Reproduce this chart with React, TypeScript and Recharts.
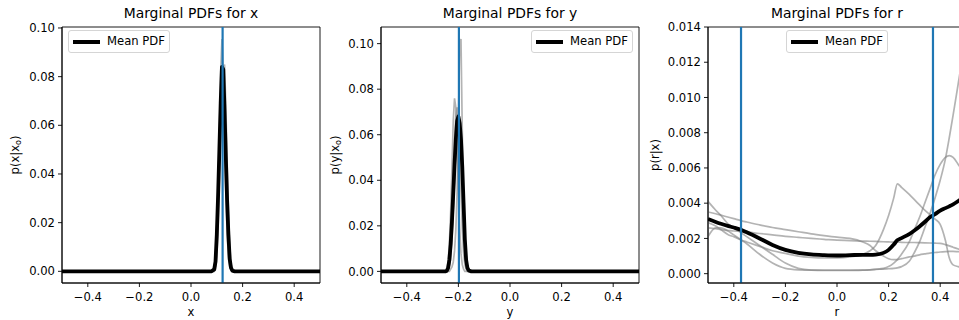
import {
  LineChart,
  Line,
  XAxis,
  YAxis,
  ReferenceLine,
  ReferenceArea,
  Legend,
} from "recharts";

// ---- panel x ----
const xGridX = [-0.5, -0.3, 0.0, 0.06, 0.08, 0.09, 0.095, 0.1, 0.105, 0.11, 0.115, 0.12, 0.125, 0.13, 0.135, 0.14, 0.145, 0.15, 0.155, 0.16, 0.17, 0.2, 0.3, 0.5];
const meanX = [0, 0, 0, 0, 0, 0.0008, 0.004, 0.015, 0.031, 0.05, 0.069, 0.084, 0.083, 0.066, 0.047, 0.029, 0.015, 0.005, 0.0015, 0.0003, 0, 0, 0, 0];
const greyX1 = [0, 0, 0, 0, 0, 0.0005, 0.002, 0.012, 0.03, 0.055, 0.082, 0.0955, 0.08, 0.055, 0.033, 0.016, 0.006, 0.002, 0.0005, 0, 0, 0, 0, 0];
const greyX2 = [0, 0, 0, 0, 0, 0, 0.001, 0.006, 0.018, 0.038, 0.06, 0.076, 0.083, 0.085, 0.068, 0.045, 0.025, 0.011, 0.003, 0.0008, 0, 0, 0, 0];
const greyX3 = [0, 0, 0, 0, 0, 0.001, 0.005, 0.017, 0.034, 0.054, 0.07, 0.082, 0.079, 0.062, 0.043, 0.026, 0.013, 0.005, 0.0012, 0.0002, 0, 0, 0, 0];
const greyX4 = [0, 0, 0, 0, 0, 0.0012, 0.006, 0.019, 0.036, 0.052, 0.066, 0.077, 0.078, 0.063, 0.046, 0.03, 0.017, 0.006, 0.0015, 0.0003, 0, 0, 0, 0];
const greyX5 = [0, 0, 0, 0, 0, 0.0008, 0.005, 0.018, 0.035, 0.053, 0.07, 0.08, 0.079, 0.064, 0.047, 0.03, 0.016, 0.005, 0.0015, 0.0003, 0, 0, 0, 0];
const truthX = 0.1225;

// ---- panel y ----
const xGridY = [-0.5, -0.3, -0.26, -0.25, -0.245, -0.24, -0.235, -0.23, -0.225, -0.22, -0.215, -0.21, -0.205, -0.2, -0.195, -0.19, -0.185, -0.18, -0.175, -0.17, -0.165, -0.16, -0.15, -0.1, 0.0, 0.5];
const meanY = [0, 0, 0, 0, 0.0003, 0.0015, 0.005, 0.012, 0.022, 0.034, 0.047, 0.058, 0.066, 0.068, 0.065, 0.058, 0.046, 0.03, 0.014, 0.005, 0.0015, 0.0004, 0, 0, 0, 0];
const greyY1 = [0, 0, 0, 0, 0, 0, 0, 0.001, 0.002, 0.004, 0.009, 0.018, 0.035, 0.065, 0.1, 0.102, 0.062, 0.028, 0.01, 0.003, 0.0008, 0, 0, 0, 0, 0];
const greyY2 = [0, 0, 0, 0, 0.001, 0.004, 0.012, 0.026, 0.045, 0.066, 0.076, 0.072, 0.056, 0.036, 0.019, 0.008, 0.003, 0.001, 0, 0, 0, 0, 0, 0, 0, 0];
const greyY3 = [0, 0, 0, 0, 0.0005, 0.002, 0.006, 0.014, 0.027, 0.043, 0.058, 0.068, 0.072, 0.066, 0.052, 0.035, 0.019, 0.008, 0.003, 0.001, 0, 0, 0, 0, 0, 0];
const greyY4 = [0, 0, 0, 0, 0, 0.0008, 0.003, 0.008, 0.016, 0.028, 0.041, 0.053, 0.061, 0.064, 0.062, 0.054, 0.043, 0.03, 0.017, 0.007, 0.002, 0.0005, 0, 0, 0, 0];
const greyY5 = [0, 0, 0, 0, 0, 0.0005, 0.002, 0.006, 0.014, 0.026, 0.04, 0.054, 0.063, 0.066, 0.064, 0.056, 0.044, 0.03, 0.016, 0.006, 0.002, 0.0005, 0, 0, 0, 0];
const truthY = -0.198;

// ---- panel r ----
const xGridR = [-0.5, -0.47, -0.45, -0.42, -0.4, -0.37, -0.35, -0.3, -0.25, -0.2, -0.15, -0.1, -0.05, 0.0, 0.05, 0.1, 0.128, 0.15, 0.18, 0.2, 0.22, 0.234, 0.25, 0.28, 0.3, 0.32, 0.34, 0.36, 0.38, 0.4, 0.42, 0.435, 0.45, 0.47, 0.5];
const meanR = [0.0031, 0.00293, 0.00283, 0.0027, 0.00262, 0.00248, 0.00235, 0.002, 0.00163, 0.00135, 0.00118, 0.00109, 0.00105, 0.00103, 0.00105, 0.00107, 0.00107, 0.00108, 0.00118, 0.00135, 0.00165, 0.0019, 0.00202, 0.00225, 0.00245, 0.00268, 0.00293, 0.0032, 0.00338, 0.00358, 0.00372, 0.00382, 0.00393, 0.00412, 0.0044];
const greyR1 = [0.0035, 0.0034, 0.00332, 0.0032, 0.00312, 0.003, 0.00293, 0.00277, 0.00262, 0.0025, 0.00238, 0.00226, 0.00216, 0.00207, 0.002, 0.0018, 0.0016, 0.0013, 0.001, 0.00085, 0.0008, 0.0008, 0.00085, 0.00095, 0.001, 0.00107, 0.00112, 0.00117, 0.0012, 0.00123, 0.00125, 0.00126, 0.00126, 0.00125, 0.00124];
const greyR2 = [0.0026, 0.00255, 0.0025, 0.00245, 0.00242, 0.0024, 0.00237, 0.00228, 0.0022, 0.00212, 0.00206, 0.002, 0.00195, 0.0019, 0.00188, 0.00185, 0.00184, 0.00183, 0.00181, 0.0018, 0.00179, 0.00179, 0.00178, 0.00177, 0.00177, 0.00176, 0.00175, 0.00174, 0.00173, 0.00172, 0.00165, 0.00158, 0.0015, 0.0014, 0.0013];
const greyR3 = [0.0041, 0.0036, 0.0033, 0.0028, 0.0026, 0.0023, 0.0021, 0.0016, 0.0011, 0.0006, 0.0003, 0.0002, 0.00018, 0.00018, 0.00018, 0.0002, 0.00022, 0.00025, 0.0003, 0.0004, 0.0006, 0.0008, 0.0011, 0.0018, 0.0025, 0.0032, 0.004, 0.0048, 0.0056, 0.0062, 0.0066, 0.0067, 0.0066, 0.0062, 0.0055];
const greyR4 = [0.0021, 0.0026, 0.0026, 0.0024, 0.0022, 0.0019, 0.0017, 0.0011, 0.0006, 0.0003, 0.00022, 0.0002, 0.0002, 0.0002, 0.0002, 0.0002, 0.00022, 0.00024, 0.00026, 0.00028, 0.0003, 0.00033, 0.0004, 0.0007, 0.0012, 0.0018, 0.0026, 0.0034, 0.0043, 0.0053, 0.0065, 0.0077, 0.009, 0.0108, 0.0135];
const greyR5 = [0.0029, 0.0027, 0.0025, 0.0022, 0.0021, 0.0019, 0.0018, 0.00155, 0.0013, 0.00115, 0.001, 0.00093, 0.0009, 0.0009, 0.00095, 0.0011, 0.0013, 0.0016, 0.0025, 0.0033, 0.0043, 0.0051, 0.0049, 0.0045, 0.0042, 0.0039, 0.0036, 0.00335, 0.0031, 0.0028, 0.0019, 0.0009, 0.0005, 0.0004, 0.0003];
const truthR = [-0.372, 0.372];

const xTicks = [-0.4, -0.2, 0.0, 0.2, 0.4];
const yTicksXY = [0, 0.02, 0.04, 0.06, 0.08, 0.1];
const yTicksR = [0, 0.002, 0.004, 0.006, 0.008, 0.01, 0.012, 0.014];

const FONT = "DejaVu Sans, sans-serif";
const FS = 11.6;
const BLUE = "#1f77b4";
const GREY = "#808080";

function toRows(xs: number[], mean: number[], greys: number[][]) {
  return xs.map((x, i) => {
    const row: Record<string, number> = { x, mean: mean[i] };
    greys.forEach((g, k) => (row[`g${k}`] = g[i]));
    return row;
  });
}

const fmtX = (v: number) => (v < 0 ? "\u2212" : "") + Math.abs(v).toFixed(1);

function LegendBox() {
  return (
    <div
      style={{
        position: "relative",
        width: 100,
        height: 21,
        border: "1px solid #d5d5d5",
        borderRadius: 3,
        background: "rgba(255,255,255,0.8)",
        fontFamily: FONT,
        fontSize: FS,
        color: "#000",
      }}
    >
      <div style={{ position: "absolute", left: 4, top: 9, width: 27, height: 4, background: "#000" }} />
      <div style={{ position: "absolute", left: 38, top: 0, lineHeight: "21px", whiteSpace: "nowrap" }}>Mean PDF</div>
    </div>
  );
}

interface PanelProps {
  left: number;
  axisWidth: number;
  title: string;
  varName: string;
  sub: boolean;
  rows: Record<string, number>[];
  yDomain: [number, number];
  yTicks: number[];
  yDigits: number;
  truths: number[];
  curve: "linear" | "monotone";
  legendLeft: number;
}

function Panel(p: PanelProps) {
  const plotW = 258;
  const width = p.axisWidth + plotW + 2;
  const yLabel = (props: any) => {
    const vb = props.viewBox;
    const cx = vb.x + 15;
    const cy = vb.y + vb.height / 2;
    return (
      <text
        x={cx}
        y={cy}
        transform={`rotate(-90 ${cx} ${cy})`}
        textAnchor="middle"
        dominantBaseline="central"
        fontSize={FS}
        fontFamily={FONT}
        fill="#000"
      >
        {p.sub ? (
          <>
            {`p(${p.varName}|x`}
            <tspan dy={3} fontSize={8}>o</tspan>
            <tspan dy={-3}>)</tspan>
          </>
        ) : (
          `p(${p.varName}|x)`
        )}
      </text>
    );
  };
  return (
    <div style={{ position: "absolute", left: p.left, top: 0 }}>
      <LineChart
        width={width}
        height={320}
        data={p.rows}
        margin={{ top: 27, right: 2, bottom: 0, left: 0 }}
      >
        <XAxis
          dataKey="x"
          type="number"
          domain={[-0.5, 0.5]}
          allowDataOverflow
          ticks={xTicks}
          interval={0}
          tickFormatter={fmtX}
          height={37}
          tickSize={4}
          tickMargin={6}
          axisLine={{ stroke: "#000", strokeWidth: 0.9 }}
          tickLine={{ stroke: "#000", strokeWidth: 0.9 }}
          tick={{ fill: "#000", fontSize: FS, fontFamily: FONT }}
          label={{ value: p.varName, position: "insideBottom", offset: 4, fill: "#000", fontSize: FS, fontFamily: FONT }}
        />
        <YAxis
          type="number"
          domain={p.yDomain}
          allowDataOverflow
          ticks={p.yTicks}
          interval={0}
          width={p.axisWidth}
          tickFormatter={(v: number) => v.toFixed(p.yDigits)}
          tickSize={4}
          tickMargin={3}
          axisLine={{ stroke: "#000", strokeWidth: 0.9 }}
          tickLine={{ stroke: "#000", strokeWidth: 0.9 }}
          tick={{ fill: "#000", fontSize: FS, fontFamily: FONT }}
          label={{ content: yLabel }}
        />
        <ReferenceArea
          x1={-0.5}
          x2={0.5}
          y1={p.yDomain[0]}
          y2={p.yDomain[1]}
          fill="none"
          stroke="#000"
          strokeWidth={0.9}
          fillOpacity={0}
        />
        {[0, 1, 2, 3, 4].map((k) => (
          <Line
            key={k}
            dataKey={`g${k}`}
            type={p.curve}
            stroke={GREY}
            strokeOpacity={0.6}
            strokeWidth={1.7}
            dot={false}
            activeDot={false}
            isAnimationActive={false}
          />
        ))}
        <Line
          dataKey="mean"
          name="Mean PDF"
          type={p.curve}
          stroke="#000"
          strokeWidth={3.8}
          strokeLinejoin="round"
          dot={false}
          activeDot={false}
          isAnimationActive={false}
        />
        {p.truths.map((t) => (
          <ReferenceLine key={t} x={t} stroke={BLUE} strokeWidth={2.2} />
        ))}
        <Legend
          layout="vertical"
          align="center"
          verticalAlign="middle"
          wrapperStyle={{ top: 30, left: p.legendLeft, width: "auto" }}
          content={() => <LegendBox />}
        />
        <text
          x={p.axisWidth + plotW / 2}
          y={17.5}
          textAnchor="middle"
          fontSize={13.9}
          fontFamily={FONT}
          fill="#000"
        >
          {p.title}
        </text>
      </LineChart>
    </div>
  );
}

export default function App() {
  return (
    <div
      style={{
        position: "absolute",
        left: 0,
        top: 0,
        width: 959,
        height: 320,
        overflow: "hidden",
        background: "#fff",
      }}
    >
      <Panel
        left={0}
        axisWidth={62}
        title="Marginal PDFs for x"
        varName="x"
        sub
        rows={toRows(xGridX, meanX, [greyX1, greyX2, greyX3, greyX4, greyX5])}
        yDomain={[-0.0048, 0.1004]}
        yTicks={yTicksXY}
        yDigits={2}
        truths={[truthX]}
        curve="linear"
        legendLeft={68}
      />
      <Panel
        left={320}
        axisWidth={61}
        title="Marginal PDFs for y"
        varName="y"
        sub
        rows={toRows(xGridY, meanY, [greyY1, greyY2, greyY3, greyY4, greyY5])}
        yDomain={[-0.0051, 0.1073]}
        yTicks={yTicksXY}
        yDigits={2}
        truths={[truthY]}
        curve="linear"
        legendLeft={211}
      />
      <Panel
        left={640}
        axisWidth={68}
        title="Marginal PDFs for r"
        varName="r"
        sub={false}
        rows={toRows(xGridR, meanR, [greyR1, greyR2, greyR3, greyR4, greyR5])}
        yDomain={[-0.00053, 0.014]}
        yTicks={yTicksR}
        yDigits={3}
        truths={truthR}
        curve="monotone"
        legendLeft={146}
      />
    </div>
  );
}
